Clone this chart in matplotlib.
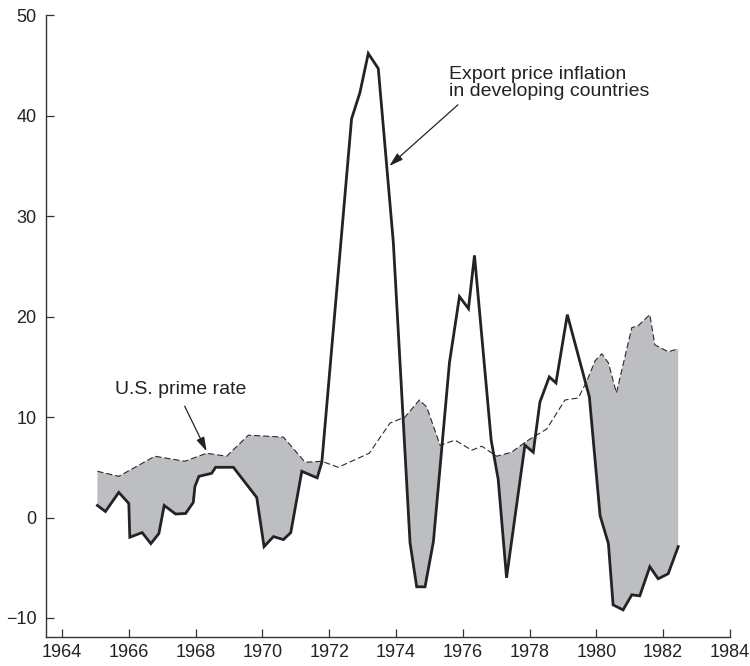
import numpy as np
import matplotlib
matplotlib.use("Agg")
import matplotlib.pyplot as plt

# Export price inflation in developing countries (%)
anios_export = [1965.06, 1965.3, 1965.7, 1966.0, 1966.03, 1966.4, 1966.66, 1966.9,
                1967.06, 1967.4, 1967.7, 1967.93, 1967.98, 1968.1, 1968.48, 1968.6,
                1969.13, 1969.83, 1970.05, 1970.33, 1970.63, 1970.85, 1971.18, 1971.64,
                1971.78, 1972.67, 1972.92, 1973.17, 1973.47, 1973.92, 1974.42, 1974.62,
                1974.87, 1975.12, 1975.6, 1975.9, 1976.17, 1976.35, 1976.85, 1977.06,
                1977.31, 1977.86, 1978.11, 1978.31, 1978.59, 1978.79, 1979.13, 1979.79,
                1980.11, 1980.36, 1980.5, 1980.8, 1981.06, 1981.3, 1981.6, 1981.85,
                1982.15, 1982.45]
export = [1.2, 0.6, 2.5, 1.4, -1.96, -1.5, -2.6, -1.6,
          1.2, 0.35, 0.4, 1.5, 3.1, 4.1, 4.4, 5.0,
          5.0, 2.0, -2.9, -1.9, -2.2, -1.5, 4.6, 3.95,
          5.5, 39.7, 42.3, 46.2, 44.7, 27.4, -2.5, -6.9,
          -6.9, -2.4, 15.4, 22.0, 20.8, 26.1, 7.7, 3.8,
          -6.0, 7.2, 6.5, 11.5, 14.0, 13.4, 20.2, 12.0,
          0.2, -2.6, -8.7, -9.2, -7.7, -7.8, -4.9, -6.1,
          -5.6, -2.9]

# U.S. prime rate (%)
anios_prime = [1965.06, 1965.7, 1966.78, 1967.68, 1968.33, 1968.93, 1969.58, 1970.63,
               1971.28, 1971.78, 1972.27, 1973.2, 1973.82, 1974.27, 1974.7, 1974.92,
               1975.32, 1975.77, 1976.27, 1976.57, 1977.01, 1977.46, 1977.91, 1978.51,
               1979.06, 1979.46, 1979.73, 1979.96, 1980.16, 1980.36, 1980.6, 1981.06,
               1981.25, 1981.6, 1981.75, 1982.15, 1982.45]
prime = [4.6, 4.1, 6.1, 5.6, 6.4, 6.1, 8.2, 8.0,
         5.5, 5.6, 5.0, 6.4, 9.4, 10.0, 11.7, 11.0,
         7.2, 7.7, 6.7, 7.1, 6.1, 6.5, 7.6, 8.8,
         11.7, 11.9, 13.7, 15.6, 16.3, 15.4, 12.4, 18.9,
         19.1, 20.2, 17.2, 16.5, 16.8]

ticks_x = list(range(1964, 1985, 2))
ticks_y = list(range(-10, 51, 10))

plt.rcParams['font.family'] = ['Liberation Sans', 'DejaVu Sans']
color_texto = '#222222'

fig = plt.figure(figsize=(7.5, 6.66), dpi=100)
ax = fig.add_axes([0.0613, 0.0435, 0.9120, 0.9335])

# sombreado donde la tasa prima supera a la inflacion de exportaciones
x_comun = np.union1d(anios_export, anios_prime)
e_comun = np.interp(x_comun, anios_export, export)
p_comun = np.interp(x_comun, anios_prime, prime)
ax.fill_between(x_comun, e_comun, p_comun, where=p_comun >= e_comun,
                interpolate=True, color='#bdbec2', linewidth=0, zorder=1)

ax.plot(anios_prime, prime, color='#2a2a2a', linewidth=0.8,
        dashes=(5.5, 2.7), zorder=2)
ax.plot(anios_export, export, color='#232323', linewidth=2.0,
        solid_joinstyle='miter', zorder=3)

ax.set_xlim(1963.52, 1984)
ax.set_ylim(-11.9, 50)
ax.set_xticks(ticks_x)
ax.set_yticks(ticks_y)
ax.set_yticklabels(['\u221210' if v < 0 else str(v) for v in ticks_y])

for lado in ['top', 'right']:
    ax.spines[lado].set_visible(False)
for lado in ['left', 'bottom']:
    ax.spines[lado].set_color('#333333')
    ax.spines[lado].set_linewidth(1.0)
ax.tick_params(axis='both', direction='in', length=6, width=0.9,
               color='#333333', labelsize=13, labelcolor=color_texto)
ax.tick_params(axis='y', pad=7)
ax.tick_params(axis='x', pad=5)

ax.annotate('Export price inflation\nin developing countries',
            xy=(1973.8, 35.0), xytext=(1975.59, 45.0),
            ha='left', va='top', fontsize=14, color=color_texto,
            linespacing=1.05,
            arrowprops=dict(arrowstyle='-|>,head_length=0.6,head_width=0.18',
                            color=color_texto, lw=0.9,
                            mutation_scale=14, shrinkA=2, shrinkB=0,
                            relpos=(0.07, 0.0)))
ax.annotate('U.S. prime rate', xy=(1968.33, 6.6), xytext=(1967.56, 12.7),
            ha='center', va='center', fontsize=14, color=color_texto,
            arrowprops=dict(arrowstyle='-|>,head_length=0.6,head_width=0.18',
                            color=color_texto, lw=0.9,
                            mutation_scale=14, shrinkA=4, shrinkB=0,
                            relpos=(0.5, 0.0)))

fig.savefig('out.png', dpi=100)
